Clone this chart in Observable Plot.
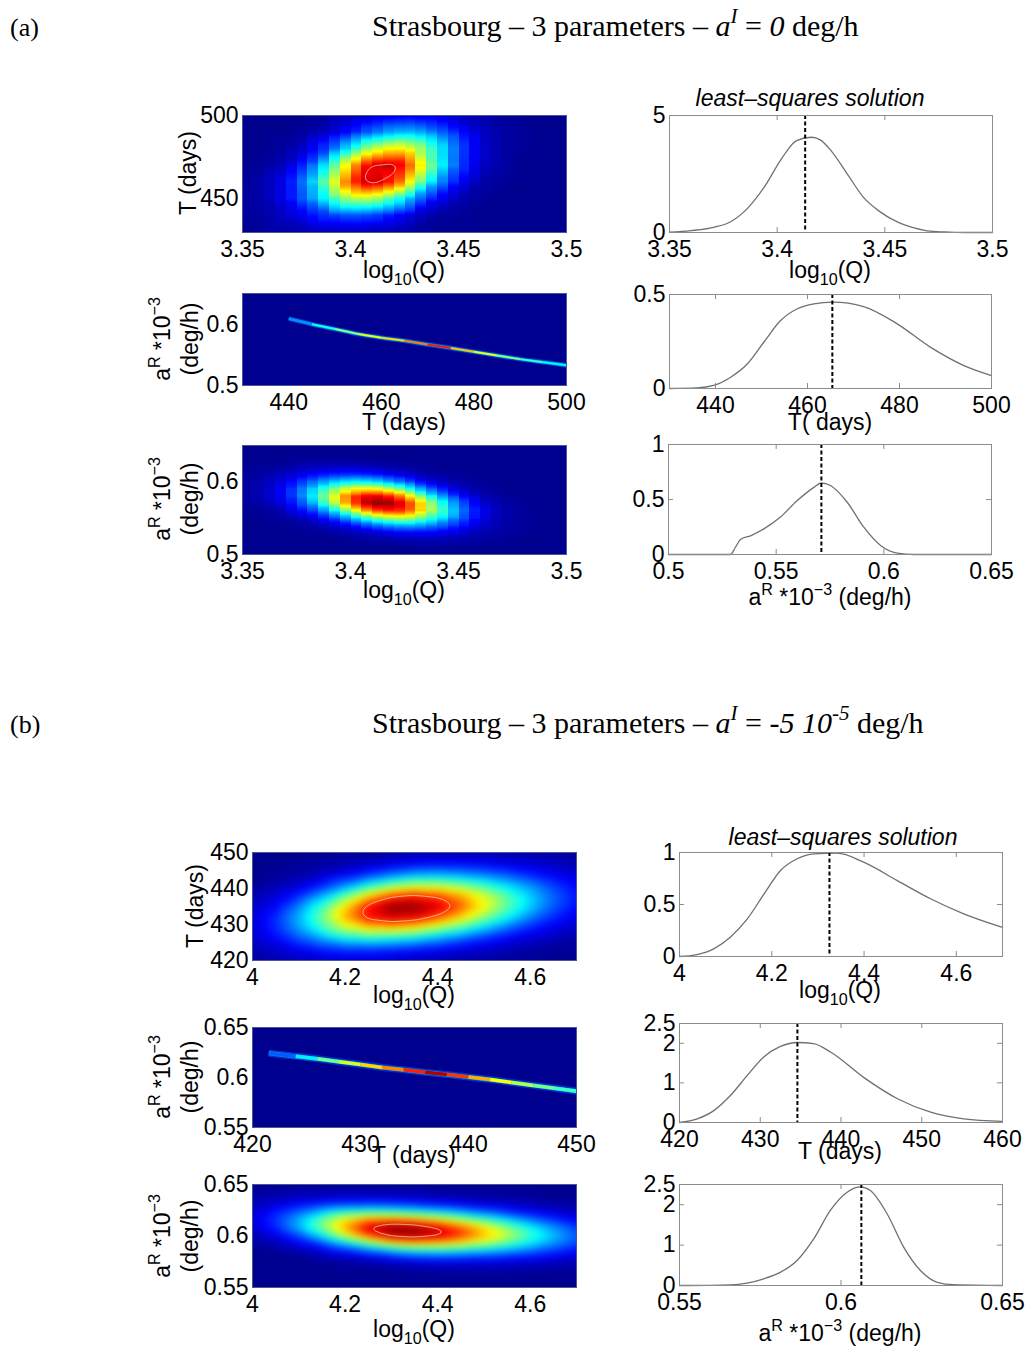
<!DOCTYPE html>
<html><head><meta charset="utf-8">
<script src="https://cdn.jsdelivr.net/npm/d3@7"></script>
<script src="https://cdn.jsdelivr.net/npm/@observablehq/plot@0.6"></script>
<style>
html,body{margin:0;padding:0;background:#fff;}
#root{position:relative;width:1026px;height:1346px;overflow:hidden;background:#fff;}
#root svg{position:absolute;}
</style></head><body><div id="root"></div>
<script>
// ================= DATA =================
// ---- (a) Strasbourg, a^I = 0 deg/h ----
const aLogQ = [3.35,3.36,3.37,3.38,3.39,3.40,3.41,3.42,3.43,3.44,3.45,3.46,3.47,3.48,3.49,3.50];
const aTrows = [500,490,480,470,460,450,440,430];
const aQT = [
  [0,0,0,0,0.01,0.03,0.05,0.08,0.09,0.08,0.05,0.03,0.01,0,0,0],
  [0,0,0,0.02,0.05,0.12,0.21,0.28,0.29,0.22,0.13,0.06,0.02,0.01,0,0],
  [0,0,0.02,0.07,0.18,0.36,0.55,0.64,0.57,0.38,0.19,0.07,0.02,0.01,0,0],
  [0,0.01,0.05,0.17,0.39,0.68,0.91,0.93,0.71,0.41,0.18,0.06,0.02,0,0,0],
  [0.01,0.03,0.10,0.26,0.52,0.81,0.94,0.83,0.55,0.28,0.11,0.03,0.01,0,0,0],
  [0.01,0.03,0.10,0.23,0.40,0.54,0.55,0.42,0.25,0.11,0.04,0.01,0,0,0,0],
  [0.01,0.02,0.06,0.11,0.17,0.20,0.18,0.12,0.06,0.02,0.01,0,0,0,0,0],
  [0,0.01,0.02,0.03,0.04,0.04,0.03,0.02,0.01,0,0,0,0,0,0,0]
];
const aRrows = [0.65,0.64,0.63,0.62,0.61,0.60,0.59,0.58,0.57,0.56,0.55,0.54,0.53,0.52,0.51,0.50];
const aQR = [
  [0,0,0,0,0,0,0,0,0,0,0,0,0,0,0,0],
  [0,0,0,0,0,0,0,0,0,0,0,0,0,0,0,0],
  [0,0,0,0.01,0.01,0.01,0,0,0,0,0,0,0,0,0,0],
  [0,0.01,0.02,0.04,0.05,0.05,0.04,0.02,0.01,0,0,0,0,0,0,0],
  [0.01,0.02,0.05,0.10,0.14,0.15,0.13,0.08,0.04,0.02,0.01,0,0,0,0,0],
  [0.01,0.04,0.09,0.19,0.29,0.35,0.33,0.24,0.14,0.06,0.02,0.01,0,0,0,0],
  [0.01,0.04,0.12,0.27,0.46,0.61,0.63,0.51,0.32,0.16,0.06,0.02,0,0,0,0],
  [0.01,0.04,0.12,0.29,0.54,0.79,0.90,0.81,0.56,0.30,0.13,0.04,0.01,0,0,0],
  [0.01,0.03,0.09,0.23,0.48,0.77,0.98,0.96,0.74,0.44,0.21,0.07,0.02,0.01,0,0],
  [0,0.01,0.05,0.14,0.31,0.56,0.79,0.86,0.73,0.48,0.25,0.10,0.03,0.01,0,0],
  [0,0.01,0.02,0.06,0.16,0.31,0.48,0.57,0.54,0.39,0.22,0.10,0.03,0.01,0,0],
  [0,0,0.01,0.02,0.06,0.13,0.22,0.29,0.30,0.24,0.15,0.07,0.03,0.01,0,0],
  [0,0,0,0.01,0.02,0.04,0.07,0.11,0.12,0.11,0.08,0.04,0.02,0.01,0,0],
  [0,0,0,0,0,0.01,0.02,0.03,0.04,0.04,0.03,0.02,0.01,0,0,0],
  [0,0,0,0,0,0,0,0,0.01,0.01,0.01,0,0,0,0,0],
  [0,0,0,0,0,0,0,0,0,0,0,0,0,0,0,0]
];
const aRidgeT  = [440,445,450,455,460,465,470,475,480,485,490,495,500];
const aRidgeAR = [0.609,0.600,0.592,0.584,0.578,0.573,0.567,0.561,0.555,0.549,0.543,0.538,0.533];
const aRidgeV  = [0.25,0.38,0.50,0.60,0.66,0.75,0.85,0.68,0.60,0.50,0.42,0.36,0.30];
const aMargQx = [3.35,3.36,3.371,3.378,3.386,3.394,3.402,3.409,3.416,3.420,3.425,3.433,3.440,3.448,3.456,3.464,3.471,3.48,3.49,3.5];
const aMargQy = [0.01,0.08,0.23,0.44,1.01,1.94,3.15,3.93,4.07,3.96,3.50,2.44,1.51,0.87,0.44,0.19,0.06,0.02,0,0];
const aMargTx = [430,436,439.6,443.3,446.9,450.5,454.1,457.8,461.4,465.5,472.2,479.5,486.7,494,500];
const aMargTy = [0,0.003,0.016,0.06,0.13,0.246,0.36,0.424,0.45,0.459,0.436,0.344,0.22,0.122,0.069];
const aMargRx = [0.5,0.5288,0.5311,0.5334,0.5381,0.5443,0.552,0.5598,0.5675,0.5709,0.5752,0.583,0.5907,0.5985,0.6062,0.614,0.65];
const aMargRy = [0,0,0.066,0.136,0.17,0.233,0.34,0.49,0.61,0.65,0.627,0.475,0.248,0.082,0.012,0,0];
const aBest = [3.413, 465.4, 0.571];

// ---- (b) Strasbourg, a^I = -5 10^-5 deg/h ----
const bLogQ = [4.00,4.05,4.10,4.15,4.20,4.25,4.30,4.35,4.40,4.45,4.50,4.55,4.60,4.65,4.70];
const bTrows = [450,447,444,441,438,435,432,429,426,423,420];
const bQT = [
  [0,0,0,0,0.01,0.01,0.02,0.03,0.03,0.03,0.03,0.03,0.02,0.02,0.01],
  [0,0,0.01,0.02,0.03,0.05,0.08,0.10,0.11,0.11,0.10,0.08,0.07,0.05,0.03],
  [0,0.01,0.02,0.05,0.10,0.16,0.22,0.27,0.28,0.26,0.23,0.19,0.14,0.10,0.07],
  [0.01,0.03,0.07,0.14,0.24,0.37,0.48,0.54,0.54,0.49,0.42,0.33,0.25,0.17,0.11],
  [0.03,0.07,0.15,0.28,0.46,0.65,0.79,0.84,0.80,0.71,0.58,0.45,0.32,0.21,0.13],
  [0.05,0.11,0.24,0.42,0.65,0.86,0.98,0.98,0.91,0.78,0.62,0.46,0.32,0.20,0.12],
  [0.07,0.15,0.29,0.48,0.70,0.86,0.92,0.89,0.79,0.66,0.51,0.37,0.24,0.15,0.09],
  [0.07,0.15,0.27,0.42,0.56,0.65,0.66,0.62,0.53,0.43,0.32,0.22,0.14,0.09,0.05],
  [0.06,0.11,0.19,0.27,0.35,0.38,0.36,0.33,0.27,0.21,0.15,0.10,0.07,0.04,0.02],
  [0.03,0.06,0.10,0.14,0.16,0.16,0.15,0.13,0.11,0.08,0.06,0.04,0.02,0.01,0.01],
  [0.02,0.03,0.04,0.05,0.06,0.06,0.05,0.04,0.03,0.02,0.02,0.01,0.01,0,0]
];
const bRrows = [0.65,0.64,0.635,0.63,0.625,0.62,0.615,0.61,0.605,0.60,0.595,0.59,0.585,0.58,0.575,0.57,0.56,0.55];
const bQR = [
  [0,0,0,0,0,0,0,0,0,0,0,0,0,0,0],
  [0.02,0.03,0.04,0.04,0.05,0.05,0.04,0.04,0.03,0.02,0.02,0.01,0.01,0,0],
  [0.03,0.05,0.07,0.09,0.10,0.10,0.10,0.09,0.07,0.06,0.04,0.03,0.02,0.01,0.01],
  [0.04,0.08,0.13,0.17,0.20,0.21,0.20,0.18,0.15,0.12,0.09,0.07,0.05,0.03,0.02],
  [0.06,0.12,0.19,0.28,0.35,0.37,0.36,0.33,0.29,0.24,0.18,0.13,0.09,0.06,0.04],
  [0.07,0.15,0.25,0.39,0.51,0.57,0.57,0.53,0.47,0.39,0.31,0.23,0.16,0.11,0.07],
  [0.07,0.16,0.29,0.47,0.64,0.76,0.78,0.75,0.67,0.57,0.46,0.35,0.25,0.17,0.11],
  [0.07,0.15,0.29,0.49,0.70,0.88,0.95,0.92,0.84,0.73,0.60,0.46,0.34,0.24,0.15],
  [0.05,0.12,0.25,0.44,0.67,0.88,0.99,0.99,0.93,0.82,0.68,0.54,0.40,0.28,0.19],
  [0.03,0.09,0.18,0.34,0.55,0.76,0.90,0.93,0.89,0.80,0.68,0.55,0.42,0.30,0.20],
  [0.02,0.05,0.12,0.23,0.39,0.56,0.71,0.76,0.74,0.68,0.59,0.49,0.38,0.28,0.19],
  [0.01,0.03,0.07,0.13,0.24,0.36,0.48,0.54,0.54,0.51,0.45,0.38,0.30,0.22,0.16],
  [0,0.01,0.03,0.07,0.13,0.20,0.28,0.34,0.35,0.33,0.30,0.26,0.21,0.16,0.11],
  [0,0,0.01,0.03,0.06,0.10,0.14,0.18,0.20,0.19,0.17,0.15,0.13,0.10,0.07],
  [0,0,0,0.01,0.02,0.04,0.06,0.08,0.09,0.09,0.09,0.08,0.07,0.05,0.04],
  [0,0,0,0,0.01,0.01,0.02,0.03,0.04,0.04,0.04,0.04,0.03,0.03,0.02],
  [0,0,0,0,0,0,0,0,0,0,0,0,0,0,0],
  [0,0,0,0,0,0,0,0,0,0,0,0,0,0,0]
];
const bRidgeT  = [421.5,424,426,428,430,432,434,436,438,440,442,444,446,448,450];
const bRidgeAR = [0.6243,0.6212,0.6187,0.6158,0.613,0.610,0.6077,0.6052,0.6029,0.6004,0.5979,0.595,0.5921,0.5892,0.5863];
const bRidgeV  = [0.20,0.35,0.48,0.58,0.66,0.74,0.84,0.95,0.82,0.70,0.62,0.55,0.48,0.42,0.36];
const bMargQx = [4.0,4.038,4.074,4.11,4.147,4.183,4.219,4.255,4.291,4.342,4.399,4.472,4.544,4.616,4.7];
const bMargQy = [0,0.019,0.074,0.186,0.362,0.60,0.827,0.94,0.987,0.994,0.907,0.73,0.555,0.41,0.28];
const bMargTx = [420,422.2,424.25,426.3,428.4,430.4,432.5,434.6,436.6,438.7,442.8,447.0,451.1,455.2,460];
const bMargTy = [0,0.093,0.30,0.68,1.19,1.65,1.92,2.02,1.99,1.78,1.14,0.60,0.26,0.093,0.03];
const bMargRx = [0.55,0.5658,0.5761,0.5813,0.5864,0.5916,0.5967,0.6019,0.606,0.6091,0.6143,0.6194,0.6246,0.6298,0.6349,0.65];
const bMargRy = [0,0.017,0.166,0.33,0.62,1.16,1.86,2.31,2.44,2.35,1.77,0.95,0.37,0.08,0.02,0];
const bBest = [4.325, 434.6, 0.6063];

// ---- tick labels ----
const ticksA_logQ = [3.35,3.4,3.45,3.5];
const ticksA_T = [440,460,480,500];
const ticksA_Theat = [450,500];
const ticksA_aR = [0.5,0.6];
const ticksA_aRmarg = [0.5,0.55,0.6,0.65];
const ticksA_yQ = [0,5], ticksA_yT = [0,0.5], ticksA_yR = [0,0.5,1];
const ticksB_logQ = [4,4.2,4.4,4.6];
const ticksB_Theat = [420,430,440,450];
const ticksB_Tmarg = [420,430,440,450,460];
const ticksB_aR = [0.55,0.6,0.65];
const ticksB_yQ = [0,0.5,1], ticksB_yT = [0,1,2,2.5], ticksB_yR = [0,1,2,2.5];

// ================= DRAWING =================
const FONT = "'Liberation Sans', Arial, Helvetica, sans-serif";
const SERIF = "'Liberation Serif', 'Times New Roman', serif";
const jetStops = [0, 0.11, 0.365, 0.62, 0.87, 1];
const jetColors = ["#00008f","#0000ff","#00ffff","#ffff00","#ff0000","#800000"];
const root = document.getElementById("root");

function grid(xs, ys, rows) { const out = []; rows.forEach((r,i)=>r.forEach((v,j)=>out.push({x: xs[j], y: ys[i], v}))); return out; }
function series(xs, ys) { return xs.map((x,i)=>({x, y: ys[i]})); }
function ridge(T, R, V) { return T.map((t,i)=>({x: t, y: R[i], v: V[i]})); }

function panel({frame, xDomain, yDomain, xTicks, yTicks, marks, boxed=false}) {
  const [fx0, fy0, fx1, fy1] = frame;
  const ML = 80, MR = 40, MT = 20, MB = 45;
  const fw = fx1 - fx0, fh = fy1 - fy0;
  const grey = "#8c8c8c";
  const box = boxed ? [
    Plot.frame({stroke: grey, strokeWidth: 1}),
    Plot.tickX(xTicks, {x: d => d, insetTop: fh - 5, stroke: grey}),
    Plot.tickX(xTicks, {x: d => d, insetBottom: fh - 5, stroke: grey}),
    Plot.tickY(yTicks, {y: d => d, insetRight: fw - 5, stroke: grey}),
    Plot.tickY(yTicks, {y: d => d, insetLeft: fw - 5, stroke: grey})
  ] : [Plot.frame({stroke: "#4a5596", strokeWidth: 1})];
  const svg = Plot.plot({
    width: fw + ML + MR, height: fh + MT + MB,
    marginLeft: ML, marginRight: MR, marginTop: MT, marginBottom: MB,
    style: {fontFamily: FONT, fontSize: "23px", background: "transparent", overflow: "visible", color: "#000"},
    x: {domain: xDomain}, y: {domain: yDomain},
    color: {type: "linear", domain: jetStops, range: jetColors, interpolate: "rgb", clamp: true},
    marks: [
      ...marks, ...box,
      Plot.axisX(xTicks, {tickSize: 0, tickPadding: 8, tickFormat: d => String(d), label: null}),
      Plot.axisY(yTicks, {tickSize: 0, tickPadding: 4, tickFormat: d => String(d), label: null})
    ]
  });
  svg.style.left = (fx0 - ML) + "px";
  svg.style.top = (fy0 - MT) + "px";
  root.appendChild(svg);
}

function heat(pts, xDomain, yDomain, frame, {cols, thresholds, blur = 0}) {
  const b = {x: "x", y: "y", interpolate: "barycentric", x1: xDomain[0], x2: xDomain[1], y1: yDomain[0], y2: yDomain[1]};
  const ro = {...b, fill: "v", blur};
  if (cols) { ro.width = cols; ro.height = Math.round(frame[3] - frame[1]); ro.imageRendering = "pixelated"; }
  return [
    Plot.raster(pts, ro),
    Plot.contour(pts, {...b, value: "v", thresholds, fill: "none", stroke: "#ffe2cc", strokeWidth: 0.8, strokeOpacity: 0.85, blur: 2})
  ];
}
function ridgeMarks(data, halo, core) {
  return [
    Plot.frame({fill: jetColors[0]}),
    Plot.line(data, {x: "x", y: "y", stroke: "#0060ff", strokeWidth: halo, strokeOpacity: 0.5, curve: "monotone-x", clip: true, strokeLinecap: "butt"}),
    Plot.line(data, {x: "x", y: "y", stroke: "#00e0ff", strokeWidth: halo * 0.6, strokeOpacity: 0.6, curve: "monotone-x", clip: true, strokeLinecap: "butt"}),
    Plot.line(data, {x: "x", y: "y", z: null, stroke: "v", strokeWidth: core, curve: "monotone-x", clip: true, strokeLinecap: "butt"})
  ];
}
function margMarks(data, best) {
  return [
    Plot.line(data, {x: "x", y: "y", stroke: "#707070", strokeWidth: 1.3, curve: "monotone-x"}),
    Plot.ruleX([best], {stroke: "#000", strokeWidth: 2, strokeDasharray: "4,2.5"})
  ];
}

// ---- (a) ----
const fA1 = [242,115,566,232], fA2 = [242,293,566,385], fA3 = [242,445,566,554];
const gA1 = [669,115,992,232], gA2 = [669,294,991,388], gA3 = [668,444,991,554];
panel({frame: fA1, xDomain: [3.35,3.5], yDomain: [430,500], xTicks: ticksA_logQ, yTicks: ticksA_Theat,
  marks: heat(grid(aLogQ, aTrows, aQT), [3.35,3.5], [430,500], fA1, {cols: 30, thresholds: [0.86, 0.92]})});
panel({frame: fA2, xDomain: [430,500], yDomain: [0.5,0.65], xTicks: ticksA_T, yTicks: ticksA_aR,
  marks: ridgeMarks(ridge(aRidgeT, aRidgeAR, aRidgeV), 5, 2)});
panel({frame: fA3, xDomain: [3.35,3.5], yDomain: [0.5,0.65], xTicks: ticksA_logQ, yTicks: ticksA_aR,
  marks: heat(grid(aLogQ, aRrows, aQR), [3.35,3.5], [0.5,0.65], fA3, {cols: 30, thresholds: [0.9, 0.96]})});
panel({frame: gA1, xDomain: [3.35,3.5], yDomain: [0,5], xTicks: ticksA_logQ, yTicks: ticksA_yQ, boxed: true,
  marks: margMarks(series(aMargQx, aMargQy), aBest[0])});
panel({frame: gA2, xDomain: [430,500], yDomain: [0,0.5], xTicks: ticksA_T, yTicks: ticksA_yT, boxed: true,
  marks: margMarks(series(aMargTx, aMargTy), aBest[1])});
panel({frame: gA3, xDomain: [0.5,0.65], yDomain: [0,1], xTicks: ticksA_aRmarg, yTicks: ticksA_yR, boxed: true,
  marks: margMarks(series(aMargRx, aMargRy), aBest[2])});

// ---- (b) ----
const fB1 = [252,852,576,960], fB2 = [252,1027,576,1127], fB3 = [252,1184,576,1287];
const gB1 = [679,852,1002,956], gB2 = [679,1023,1002,1122], gB3 = [679,1184,1002,1285];
panel({frame: fB1, xDomain: [4,4.7], yDomain: [420,450], xTicks: ticksB_logQ, yTicks: ticksB_Theat,
  marks: heat(grid(bLogQ, bTrows, bQT), [4,4.7], [420,450], fB1, {thresholds: [0.8, 0.95], blur: 3})});
panel({frame: fB2, xDomain: [420,450], yDomain: [0.55,0.65], xTicks: ticksB_Theat, yTicks: ticksB_aR,
  marks: ridgeMarks(ridge(bRidgeT, bRidgeAR, bRidgeV), 7, 3.5)});
panel({frame: fB3, xDomain: [4,4.7], yDomain: [0.55,0.65], xTicks: ticksB_logQ, yTicks: ticksB_aR,
  marks: heat(grid(bLogQ, bRrows, bQR), [4,4.7], [0.55,0.65], fB3, {thresholds: [0.85, 0.96], blur: 3})});
panel({frame: gB1, xDomain: [4,4.7], yDomain: [0,1], xTicks: ticksB_logQ, yTicks: ticksB_yQ, boxed: true,
  marks: margMarks(series(bMargQx, bMargQy), bBest[0])});
panel({frame: gB2, xDomain: [420,460], yDomain: [0,2.5], xTicks: ticksB_Tmarg, yTicks: ticksB_yT, boxed: true,
  marks: margMarks(series(bMargTx, bMargTy), bBest[1])});
panel({frame: gB3, xDomain: [0.55,0.65], yDomain: [0,2.5], xTicks: ticksB_aR, yTicks: ticksB_yR, boxed: true,
  marks: margMarks(series(bMargRx, bMargRy), bBest[2])});

// ================= TEXT OVERLAY =================
const ov = d3.create("svg").attr("width", 1026).attr("height", 1346)
  .style("left", "0px").style("top", "0px").style("pointer-events", "none");
function label(x, y, parts, {size = 23, anchor = "middle", rotate = 0, family = FONT, italic = false} = {}) {
  const t = ov.append("text").attr("x", x).attr("y", y).attr("text-anchor", anchor)
    .attr("font-family", family).attr("font-size", size).attr("fill", "#000").style("white-space", "pre");
  if (rotate) t.attr("transform", `rotate(${rotate},${x},${y})`);
  if (italic) t.attr("font-style", "italic");
  let shift = 0;
  for (const p of parts) {
    const [s, kind = "n"] = Array.isArray(p) ? p : [p];
    const sp = t.append("tspan").text(s);
    let target = 0;
    if (kind.includes("sub")) target = size * 0.32;
    if (kind.includes("sup")) target = -size * 0.42;
    if (target !== shift) { sp.attr("dy", target - shift); shift = target; }
    if (kind.includes("sub") || kind.includes("sup")) sp.attr("font-size", size * 0.7);
    if (kind.startsWith("i")) sp.attr("font-style", "italic");
  }
  return t;
}
const LOGQ = ["log", ["10","sub"], "(Q)"];
const AR1 = ["a", ["R","sup"], " *10", ["−3","sup"]];
const ARFULL = ["a", ["R","sup"], " *10", ["−3","sup"], " (deg/h)"];

// titles
label(10, 36, ["(a)"], {size: 26, anchor: "start", family: SERIF});
label(372, 36, ["Strasbourg – 3 parameters – ", ["a","i"], ["I","isup"], " = ", ["0","i"], " deg/h"], {size: 30, anchor: "start", family: SERIF});
label(10, 733, ["(b)"], {size: 26, anchor: "start", family: SERIF});
label(372, 733, ["Strasbourg – 3 parameters – ", ["a","i"], ["I","isup"], " = ", ["-5 10","i"], ["-5","isup"], " deg/h"], {size: 30, anchor: "start", family: SERIF});
label(810, 106, ["least–squares solution"], {italic: true});
label(843, 845, ["least–squares solution"], {italic: true});

// (a) axis labels
label(404, 278, LOGQ);
label(830, 278, LOGQ);
label(196, 173, ["T (days)"], {rotate: -90});
label(404, 430, ["T (days)"]);
label(830, 430, ["T( days)"]);
label(170, 339, AR1, {rotate: -90});
label(198, 339, ["(deg/h)"], {rotate: -90});
label(404, 598, LOGQ);
label(830, 605, ARFULL);
label(170, 499, AR1, {rotate: -90});
label(198, 499, ["(deg/h)"], {rotate: -90});

// (b) axis labels
label(203, 906, ["T (days)"], {rotate: -90});
label(414, 1003, LOGQ);
label(840, 998, LOGQ);
label(170, 1077, AR1, {rotate: -90});
label(198, 1077, ["(deg/h)"], {rotate: -90});
label(414, 1163, ["T (days)"]);
label(840, 1159, ["T (days)"]);
label(170, 1236, AR1, {rotate: -90});
label(198, 1236, ["(deg/h)"], {rotate: -90});
label(414, 1337, LOGQ);
label(840, 1341, ARFULL);

root.appendChild(ov.node());
</script></body></html>
